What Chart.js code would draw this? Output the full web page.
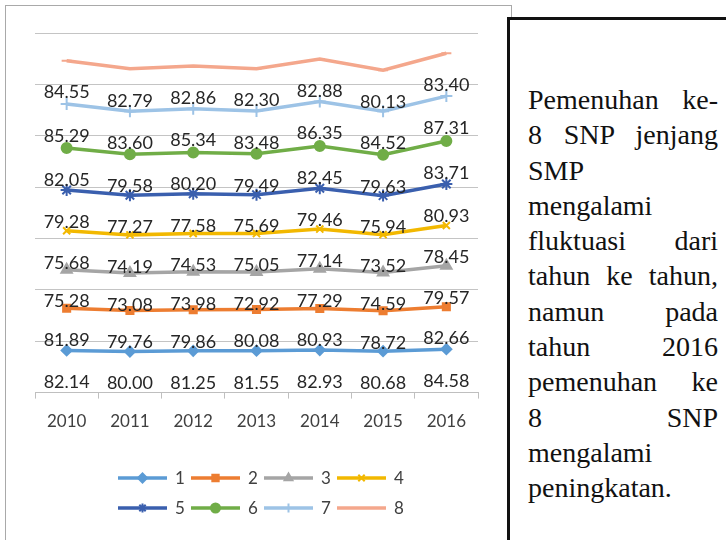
<!DOCTYPE html>
<html>
<head>
<meta charset="utf-8">
<script src="https://cdn.jsdelivr.net/npm/chart.js@4.4.1/dist/chart.umd.min.js"></script>
<style>
  body { margin: 0; width: 726px; height: 540px; overflow: hidden; background: #fff; }
  #chartBox { position: absolute; left: 5px; top: 5px; width: 505px; height: 540px; border: 1px solid #a9a9a9; }
  #chartBox canvas { position: absolute; left: 0; top: 0; }
  #textBox { position: absolute; left: 507px; top: 17px; width: 240px; height: 540px; border: 3px solid #111; box-sizing: border-box; background: #fff; padding: 62px 0 0 18px; font-family: "Liberation Serif", "Times New Roman", serif; font-size: 28px; line-height: 35.3px; color: #111; }
  #textBox div { width: 190px; text-align: justify; text-align-last: justify; white-space: nowrap; }
  #textBox div.l { text-align-last: left; }
</style>
</head>
<body>
<div id="chartBox"><canvas id="snpChart" width="500" height="534"></canvas></div>
<div id="textBox">
  <div>Pemenuhan ke-</div>
  <div>8 SNP jenjang</div>
  <div class="l">SMP</div>
  <div class="l">mengalami</div>
  <div>fluktuasi dari</div>
  <div>tahun ke tahun,</div>
  <div>namun pada</div>
  <div>tahun 2016</div>
  <div>pemenuhan ke</div>
  <div>8 SNP</div>
  <div class="l">mengalami</div>
  <div class="l">peningkatan.</div>
</div>
<script>
const years = ['2010', '2011', '2012', '2013', '2014', '2015', '2016'];
const snp1 = [82.14, 80.00, 81.25, 81.55, 82.93, 80.68, 84.58];
const snp2 = [81.89, 79.76, 79.86, 80.08, 80.93, 78.72, 82.66];
const snp3 = [75.28, 73.08, 73.98, 72.92, 77.29, 74.59, 79.57];
const snp4 = [75.68, 74.19, 74.53, 75.05, 77.14, 73.52, 78.45];
const snp5 = [79.28, 77.27, 77.58, 75.69, 79.46, 75.94, 80.93];
const snp6 = [82.05, 79.58, 80.20, 79.49, 82.45, 79.63, 83.71];
const snp7 = [85.29, 83.60, 85.34, 83.48, 86.35, 84.52, 87.31];
const snp8 = [84.55, 82.79, 82.86, 82.30, 82.88, 80.13, 83.40];
const seriesNames = ['1', '2', '3', '4', '5', '6', '7', '8'];

const colors = ['#5b9bd5', '#ed7d31', '#a5a5a5', '#f2b800', '#3a5fae', '#70ad47', '#9dc3e6', '#f4a78c'];
const markers = ['rectRot', 'rect', 'triangle', 'crossRot', 'star', 'circle', 'cross', 'line'];
const markerSize = [5, 5, 6, 5, 6, 5, 6, 5];
const allSeries = [snp1, snp2, snp3, snp4, snp5, snp6, snp7, snp8];

// value labels sit under each point, like the excel original
const valueLabels = {
    id: 'valueLabels',
    afterDatasetsDraw(chart) {
        const ctx = chart.ctx;
        ctx.save();
        ctx.font = '18px Lato';
        ctx.fillStyle = '#262626';
        ctx.textAlign = 'center';
        ctx.textBaseline = 'middle';
        chart.data.datasets.forEach((ds, i) => {
            chart.getDatasetMeta(i).data.forEach((pt, j) => {
                ctx.fillText(ds.data[j].toFixed(2), pt.x, pt.y + 32);
            });
        });
        ctx.restore();
    }
};

// two row legend, 4 items per row
const rowLegend = {
    id: 'rowLegend',
    afterDraw(chart) {
        const ctx = chart.ctx;
        ctx.save();
        ctx.font = '17px Lato';
        ctx.textBaseline = 'middle';
        chart.data.datasets.forEach((ds, i) => {
            const x = 112 + (i % 4) * 73;
            const y = 472 + Math.floor(i / 4) * 30;
            ctx.strokeStyle = ds.borderColor;
            ctx.fillStyle = ds.borderColor;
            ctx.lineWidth = 3.5;
            ctx.beginPath();
            ctx.moveTo(x, y);
            ctx.lineTo(x + 49, y);
            ctx.stroke();
            if (Chart.helpers && Chart.helpers.drawPoint) {
                ctx.lineWidth = 2;
                Chart.helpers.drawPoint(ctx, { pointStyle: ds.pointStyle, radius: 4.5, rotation: 0, borderWidth: 2 }, x + 24.5, y);
            }
            ctx.fillStyle = '#404040';
            ctx.fillText(ds.label, x + 57, y + 1);
        });
        ctx.restore();
    }
};

new Chart(document.getElementById('snpChart'), {
    type: 'line',
    data: {
        labels: years,
        datasets: allSeries.map((vals, i) => ({
            label: seriesNames[i],
            data: vals,
            borderColor: colors[i],
            backgroundColor: colors[i],
            borderWidth: 3.5,
            pointStyle: markers[i],
            pointRadius: markerSize[i],
            pointBorderWidth: 2,
            pointBorderColor: colors[i],
            pointBackgroundColor: colors[i],
            fill: false,
            tension: 0
        }))
    },
    options: {
        responsive: false,
        animation: false,
        layout: { padding: { left: 29, right: 28, top: 27, bottom: 95 } },
        plugins: {
            legend: { display: false },
            tooltip: { enabled: false }
        },
        scales: {
            x: {
                offset: true,
                grid: { offset: true, drawOnChartArea: false, drawTicks: true, tickLength: 6, color: '#bfbfbf' },
                border: { color: '#bfbfbf', width: 1 },
                ticks: { color: '#404040', font: { family: 'Lato', size: 17 }, padding: 13, maxRotation: 0 }
            },
            y: {
                stacked: true,
                min: 0,
                max: 700,
                ticks: { display: false, stepSize: 100 },
                grid: { color: '#c4c4c4', drawTicks: false },
                border: { display: false }
            }
        }
    },
    plugins: [valueLabels, rowLegend]
});
</script>
</body>
</html>
